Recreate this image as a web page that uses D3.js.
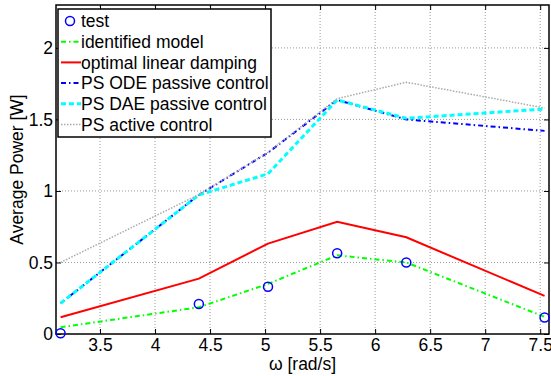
<!DOCTYPE html>
<html>
<head>
<meta charset="utf-8">
<script src="https://cdn.jsdelivr.net/npm/d3@7"></script>
<style>
  body { margin: 0; background: #fff; }
  text { font-family: "Liberation Sans", Arial, sans-serif; }
</style>
</head>
<body>
<div id="chart"></div>
<script>
// omega values (rad/s)
const omega = [3.1416, 4.3982, 5.0265, 5.6549, 6.2832, 7.5398];

const testPower = [0.005, 0.21, 0.33, 0.565, 0.50, 0.115];
const identifiedModel = [0.047, 0.187, 0.35, 0.55, 0.50, 0.12];
const optimalLinear = [0.117, 0.387, 0.632, 0.785, 0.676, 0.266];
const psOdePassive = [0.215, 0.972, 1.268, 1.636, 1.50, 1.42];
const psDaePassive = [0.215, 0.972, 1.12, 1.636, 1.508, 1.573];
const psActive = [0.5, 0.975, 1.27, 1.645, 1.76, 1.58];

const xTicks = [3.5, 4, 4.5, 5, 5.5, 6, 6.5, 7, 7.5];
const yTicks = [0, 0.5, 1, 1.5, 2];

const series = [
  { name: "identified model", values: identifiedModel, color: "#00ff00", width: 2, dash: "5,3,1.5,3" },
  { name: "optimal linear damping", values: optimalLinear, color: "#ff0000", width: 2, dash: null },
  { name: "PS ODE passive control", values: psOdePassive, color: "#0000ff", width: 2, dash: "5,3,1.5,3" },
  { name: "PS DAE passive control", values: psDaePassive, color: "#00ffff", width: 3, dash: "5,3" },
  { name: "PS active control", values: psActive, color: "#aaaaaa", width: 1.5, dash: "1.5,1.5" }
];

const width = 551, height = 376;
const margin = { top: 5, right: 2, bottom: 42, left: 56 };
const fs = 17.5;

const svg = d3.select("#chart").append("svg")
  .attr("width", width)
  .attr("height", height);

const x = d3.scaleLinear().domain([3.1, 7.58]).range([margin.left, width - margin.right]);
const y = d3.scaleLinear().domain([0, 2.3]).range([height - margin.bottom, margin.top]);

const x0 = margin.left, x1 = width - margin.right;
const y0 = height - margin.bottom, y1 = margin.top;

// grid
const grid = svg.append("g").attr("stroke", "#999").attr("stroke-width", 1).attr("stroke-dasharray", "1,2");
grid.selectAll(".gx").data(xTicks).join("line")
  .attr("x1", d => x(d)).attr("x2", d => x(d)).attr("y1", y0).attr("y2", y1);
grid.selectAll(".gy").data(yTicks.filter(d => d > 0)).join("line")
  .attr("y1", d => y(d)).attr("y2", d => y(d)).attr("x1", x0).attr("x2", x1);

// axes
svg.append("g")
  .attr("transform", `translate(0,${y0})`)
  .call(d3.axisBottom(x).tickValues(xTicks).tickSize(-5).tickPadding(5).tickFormat(d3.format("")))
  .call(g => g.selectAll("text").attr("font-size", fs).attr("fill", "#000"))
  .call(g => g.select(".domain").remove());
svg.append("g")
  .attr("transform", `translate(0,${y1})`)
  .call(d3.axisTop(x).tickValues(xTicks).tickSize(-5).tickFormat(""))
  .call(g => g.select(".domain").remove());
svg.append("g")
  .attr("transform", `translate(${x0},0)`)
  .call(d3.axisLeft(y).tickValues(yTicks).tickSize(-5).tickPadding(3).tickFormat(d3.format("")))
  .call(g => g.selectAll("text").attr("font-size", fs).attr("fill", "#000"))
  .call(g => g.select(".domain").remove());
svg.append("g")
  .attr("transform", `translate(${x1},0)`)
  .call(d3.axisRight(y).tickValues(yTicks).tickSize(-5).tickFormat(""))
  .call(g => g.select(".domain").remove());

svg.append("rect")
  .attr("x", x0).attr("y", y1).attr("width", x1 - x0).attr("height", y0 - y1)
  .attr("fill", "none").attr("stroke", "#000").attr("stroke-width", 1.5);

// lines
const line = d3.line().x((d, i) => x(omega[i])).y(d => y(d));
series.forEach(s => {
  svg.append("path")
    .attr("d", line(s.values))
    .attr("fill", "none")
    .attr("stroke", s.color)
    .attr("stroke-width", s.width)
    .attr("stroke-dasharray", s.dash);
});

// test circles
svg.append("g").selectAll("circle").data(testPower).join("circle")
  .attr("cx", (d, i) => x(omega[i]))
  .attr("cy", d => y(d))
  .attr("r", 4.5)
  .attr("fill", "none")
  .attr("stroke", "#0000ff")
  .attr("stroke-width", 1.5);

// axis labels
svg.append("text")
  .attr("x", (x0 + x1) / 2).attr("y", 370)
  .attr("text-anchor", "middle").attr("font-size", fs)
  .text("ω [rad/s]");
svg.append("text")
  .attr("transform", `translate(23,${(y0 + y1) / 2}) rotate(-90)`)
  .attr("text-anchor", "middle").attr("font-size", fs)
  .text("Average Power [W]");

// legend
const lg = svg.append("g");
lg.append("rect")
  .attr("x", 58).attr("y", 9).attr("width", 213).attr("height", 128)
  .attr("fill", "#fff").attr("stroke", "#000").attr("stroke-width", 1.5);
const rowH = 20.7, rowY0 = 21;
lg.append("circle")
  .attr("cx", 70).attr("cy", rowY0).attr("r", 4.5)
  .attr("fill", "none").attr("stroke", "#0000ff").attr("stroke-width", 1.5);
lg.append("text").attr("x", 81).attr("y", rowY0).attr("dy", "0.35em").attr("font-size", fs).text("test");
series.forEach((s, i) => {
  const yy = rowY0 + rowH * (i + 1);
  lg.append("line")
    .attr("x1", 61).attr("x2", 81).attr("y1", yy).attr("y2", yy)
    .attr("stroke", s.color).attr("stroke-width", s.width)
    .attr("stroke-dasharray", s.dash);
  lg.append("text").attr("x", 81).attr("y", yy).attr("dy", "0.35em").attr("font-size", fs).text(s.name);
});
</script>
</body>
</html>
